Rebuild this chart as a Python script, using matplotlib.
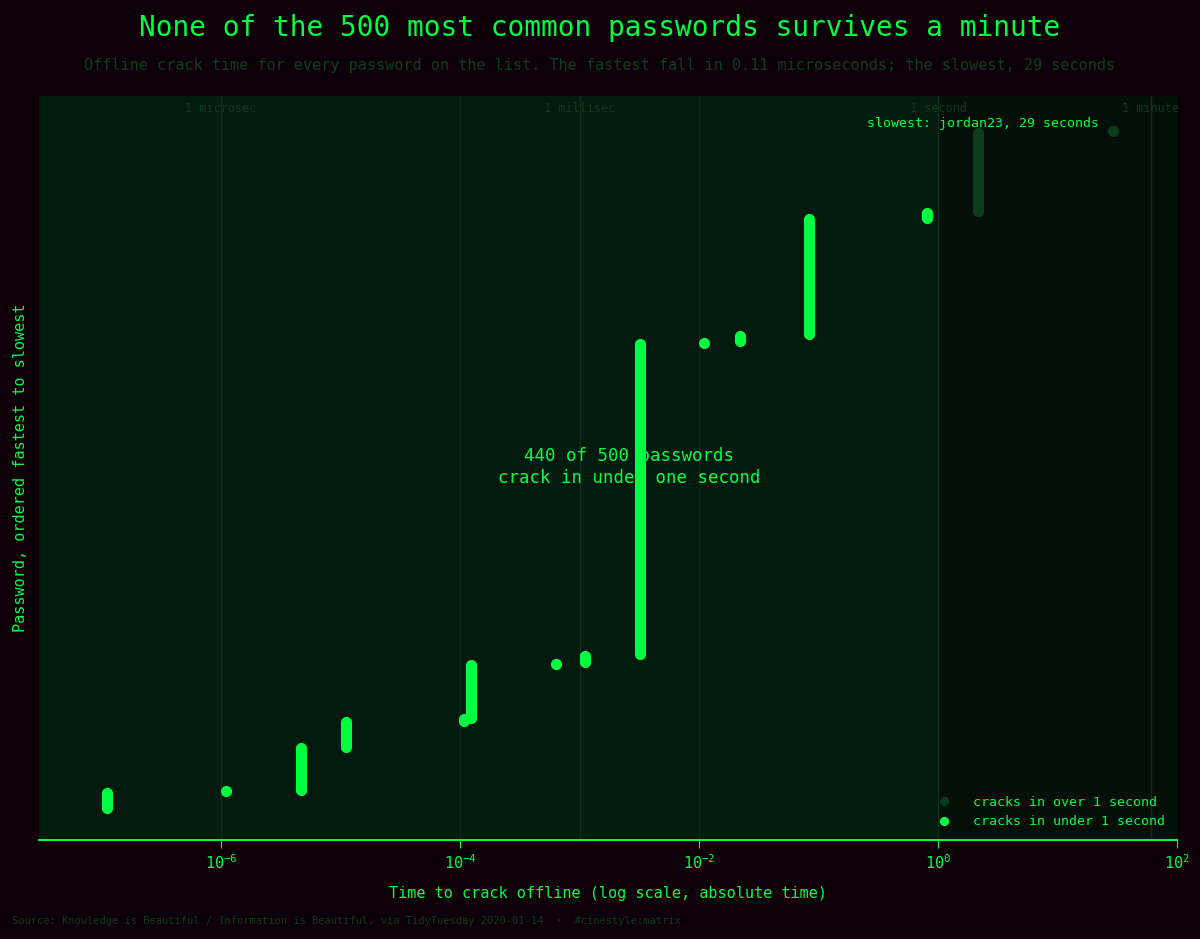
import numpy as np
import matplotlib
matplotlib.use("Agg")
import matplotlib.pyplot as plt

# crack times (seconds) of each cluster, and number of passwords in it
group_times = [1.11e-7, 1.11e-6, 4.66e-6, 1.11e-5, 1.07e-4, 1.24e-4, 6.3e-4, 1.1e-3,
               3.2e-3, 1.1e-2, 2.2e-2, 8.3e-2, 0.81, 2.17, 29.0]
group_counts = [12, 1, 32, 19, 2, 40, 1, 6, 230, 1, 5, 86, 5, 59, 1]
guide_times = [1e-6, 1e-3, 1.0, 60.0]
guide_labels = ["1 microsec", "1 millisec", "1 second", "1 minute"]

times = np.repeat(group_times, group_counts)
ranks = np.arange(1, len(times) + 1)
fast = times < 1

BG = "#0d0009"
AX = "#031a0e"
GREEN = "#00ff41"
DIM = "#0e3a1c"
FONT = ["DejaVu Sans Mono"]
plt.rcParams["font.family"] = FONT

fig = plt.figure(figsize=(12, 9.39), dpi=100, facecolor=BG)
ax = fig.add_axes([0.0325, 0.1054, 0.9485, 0.7924], facecolor=AX)
ax.set_xscale("log")
ax.set_xlim(3e-8, 100)
ax.set_ylim(-23, 526)
ax.axvspan(1, 100, color="#040f09", zorder=0)

for t, lab in zip(guide_times, guide_labels):
    ax.axvline(t, color="#0f2f18", lw=1, zorder=1)
    ax.text(t, 517, lab, color="#0f3a1c", fontsize=8.5, ha="center", va="center")
ax.grid(axis="x", which="major", color="#0b2a15", lw=0.8)
ax.set_axisbelow(True)

ax.plot(times[~fast], ranks[~fast], "o", ms=7, color="#0b3d1c", ls="none",
        label="cracks in over 1 second", zorder=3)
ax.plot(times[fast], ranks[fast], "o", ms=7, color=GREEN, ls="none",
        label="cracks in under 1 second", zorder=4)

ax.text(2.6e-3, 252, "440 of 500 passwords\ncrack in under one second", color=GREEN,
        fontsize=12.5, ha="center", va="center", linespacing=1.3, zorder=5)
ax.text(22, 506, "slowest: jordan23, 29 seconds", color=GREEN, fontsize=9.5,
        ha="right", va="center", zorder=5)

for s in ["top", "right", "left"]:
    ax.spines[s].set_visible(False)
ax.spines["bottom"].set_color(GREEN)
ax.spines["bottom"].set_linewidth(1.5)
ax.set_yticks([])
ax.tick_params(axis="x", colors=GREEN, labelsize=11, which="major", length=6)
ax.tick_params(axis="x", which="minor", length=0)
ax.set_xticks([1e-6, 1e-4, 1e-2, 1, 100])
ax.set_xlabel("Time to crack offline (log scale, absolute time)", color=GREEN, fontsize=11, labelpad=10)
ax.set_ylabel("Password, ordered fastest to slowest", color=GREEN, fontsize=11, labelpad=8)

leg = ax.legend(loc="lower right", frameon=False, fontsize=9.5, handletextpad=1.2,
                markerscale=0.8)
for t in leg.get_texts():
    t.set_color(GREEN)

fig.text(0.5, 0.970, "None of the 500 most common passwords survives a minute", color=GREEN,
         fontsize=20, ha="center", va="center")
fig.text(0.5, 0.930, "Offline crack time for every password on the list. The fastest fall in 0.11 microseconds; the slowest, 29 seconds",
         color="#0f3d1f", fontsize=11, ha="center", va="center")
fig.text(0.01, 0.019, "Source: Knowledge is Beautiful / Information is Beautiful, via TidyTuesday 2020-01-14  ·  #cinestyle:matrix",
         color="#0e3a1c", fontsize=7.5, ha="left", va="center")

fig.savefig("out.png", dpi=100, facecolor=BG)
